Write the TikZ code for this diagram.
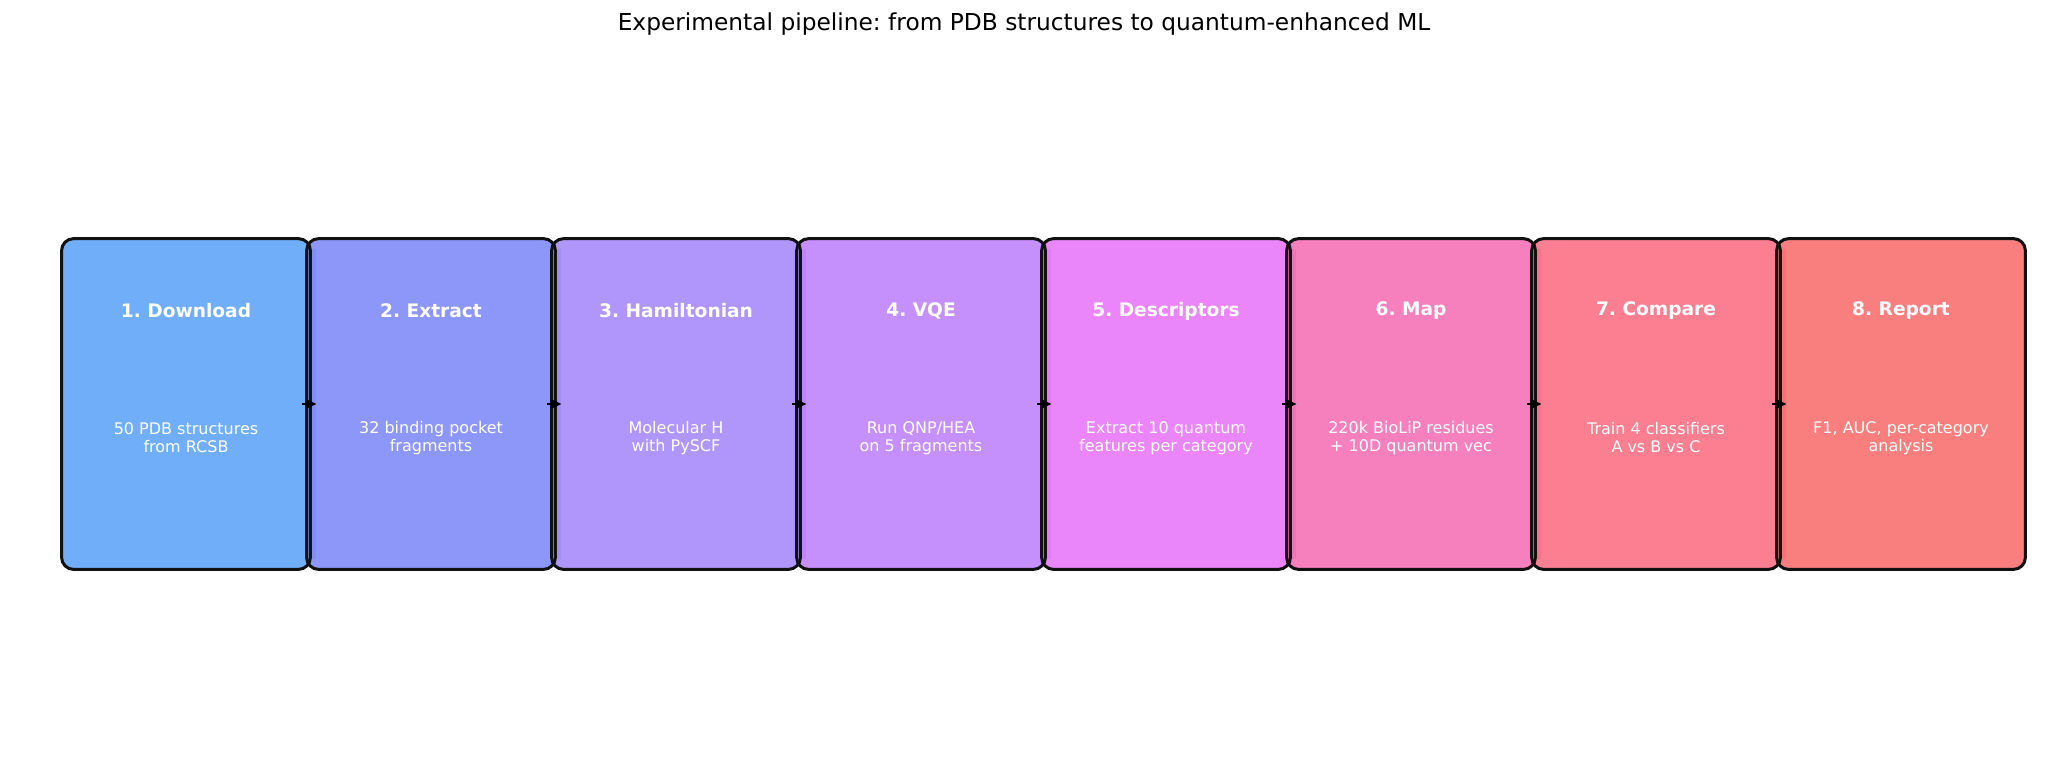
\documentclass[tikz,border=0pt]{standalone}
\usepackage{fontspec}
\setmainfont{DejaVu Sans}
\usetikzlibrary{arrows.meta}
\frenchspacing
\definecolor{c1}{HTML}{60A5FA}
\definecolor{c2}{HTML}{818CF8}
\definecolor{c3}{HTML}{A78BFA}
\definecolor{c4}{HTML}{C084FC}
\definecolor{c5}{HTML}{E879F9}
\definecolor{c6}{HTML}{F472B6}
\definecolor{c7}{HTML}{FB7185}
\definecolor{c8}{HTML}{F87171}
\definecolor{edge}{HTML}{111111}
\tikzset{
  boxfill/.style={draw=none, rounded corners=6pt, minimum width=124pt, minimum height=165pt, inner sep=0pt, fill opacity=0.9},
  boxedge/.style={draw=edge, line width=1.5pt, rounded corners=6pt},
  boxtitle/.style={text=white, font=\fontsize{9.3}{11}\selectfont\bfseries, inner sep=0pt},
  boxdesc/.style={text=white, font=\fontsize{8}{9}\selectfont, align=center, inner sep=0pt},
  arr/.style={draw=black, line width=0.8pt, -{Triangle[length=5pt,width=4.5pt]}},
  strip/.style={fill opacity=0.9}
}
\begin{document}
\begin{tikzpicture}[x=0.5pt,y=-0.5pt]
\useasboundingbox (0,0) rectangle (2048,756);
\node[font=\fontsize{11.65}{13}\selectfont, inner sep=0pt] (title) at (1024,24) {Experimental pipeline: from PDB structures to quantum-enhanced ML};
\foreach \i/\c/\t/\d in {
  1/c1/{1. Download}/{50 PDB structures\\from RCSB},
  2/c2/{2. Extract}/{32 binding pocket\\fragments},
  3/c3/{3. Hamiltonian}/{Molecular H\\with PySCF},
  4/c4/{4. VQE}/{Run QNP/HEA\\on 5 fragments},
  5/c5/{5. Descriptors}/{Extract 10 quantum\\features per category},
  6/c6/{6. Map}/{220k BioLiP residues\\+ 10D quantum vec},
  7/c7/{7. Compare}/{Train 4 classifiers\\A vs B vs C},
  8/c8/{8. Report}/{F1, AUC, per-category\\analysis}}{
  \node[boxfill, fill=\c] (b\i) at ({186+245*(\i-1)},404) {};
  \ifnum\i<8
    \fill[\c, strip] ([xshift=-2pt,yshift=-5pt]b\i.north east) rectangle ([xshift=3pt,yshift=5pt]b\i.south east);
  \fi
  \node[boxtitle] (t\i) at ([yshift=46.5pt]b\i.center) {\t};
  \node[boxdesc] (d\i) at ([yshift=-17pt]b\i.center) {\d};
}
\foreach \i in {1,...,8}{
  \draw[boxedge] (b\i.south west) rectangle (b\i.north east);
}
\foreach \i in {1,...,7}{
  \draw[arr] ([xshift=-4pt]b\i.east) -- ([xshift=3pt]b\i.east);
}
\end{tikzpicture}
\end{document}
